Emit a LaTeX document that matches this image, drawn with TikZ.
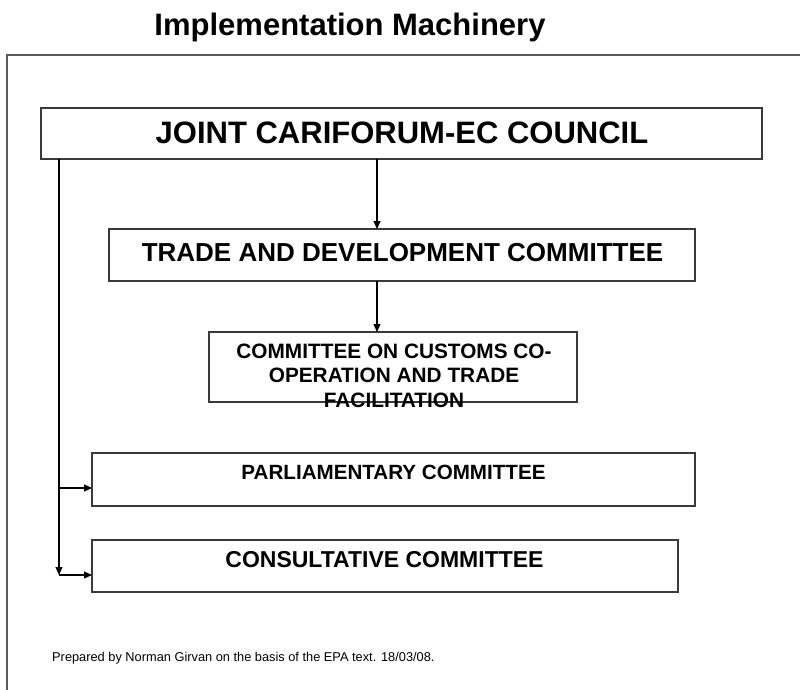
\documentclass[tikz,border=0pt]{standalone}
\usepackage{fontspec}
\setmainfont{Liberation Sans}
\usetikzlibrary{arrows.meta}
\definecolor{boxline}{HTML}{3A3A3A}
\definecolor{frameline}{HTML}{5A5A5A}
\begin{document}
\begin{tikzpicture}[x=1pt,y=-1pt,
  box/.style={draw=boxline,line width=1.2pt,inner sep=0pt,outer sep=0pt,anchor=north west},
  heading/.style={font=\bfseries\fontsize{#1}{#1}\selectfont,inner sep=0pt,anchor=base},
  arr/.style={draw=black,line width=1.1pt,-{Triangle[length=8pt,width=7pt]}}]
  \useasboundingbox (0,0) rectangle (800,690);
  % page title and frame
  \node[heading=31] (title) at (350,36) {Implementation Machinery};
  \draw[frameline,line width=1.3pt] (7,690) -- (7,55) -- (800,55);

  % boxes
  \node[box,minimum width=721pt,minimum height=51pt] (joint) at (41,108) {};
  \node[box,minimum width=586pt,minimum height=52pt] (trade) at (109,229) {};
  \node[box,minimum width=368pt,minimum height=70pt] (customs) at (209,332) {};
  \node[box,minimum width=603pt,minimum height=53pt] (parl) at (92,453) {};
  \node[box,minimum width=586pt,minimum height=52pt] (cons) at (92,540) {};

  % box texts
  \node[heading=31] (jointtxt) at (402,143) {JOINT CARIFORUM-EC COUNCIL};
  \node[heading=26] (tradetxt) at (402.5,261) {TRADE AND DEVELOPMENT COMMITTEE};
  \node[heading=20.8] (custtxtA) at (394,358) {COMMITTEE ON CUSTOMS CO-};
  \node[heading=20.8] (custtxtB) at (394,382.5) {OPERATION AND TRADE};
  \node[heading=20.8] (custtxtC) at (394,407) {FACILITATION};
  \node[heading=20.6] (parltxt) at (393.5,479) {PARLIAMENTARY COMMITTEE};
  \node[heading=23] (constxt) at (384.5,567) {CONSULTATIVE COMMITTEE};

  % footer
  \node[font=\fontsize{12.8}{12.8}\selectfont,inner sep=0pt,anchor=base west] (note) at (52,661)
    {Prepared by Norman Girvan on the basis of the EPA text. 18/03/08.};

  % connectors
  \coordinate (bA) at (59,488);
  \coordinate (bB) at (59,575);
  \coordinate (trunk) at (377,0);
  \draw[arr] (joint.south -| bA) -- (bB);
  \draw[arr] (bA) -- (bA -| parl.west);
  \draw[arr] (bB) -- (bB -| cons.west);
  \draw[arr] (joint.south -| trunk) -- (trade.north -| trunk);
  \draw[arr] (trade.south -| trunk) -- (customs.north -| trunk);
\end{tikzpicture}
\end{document}
